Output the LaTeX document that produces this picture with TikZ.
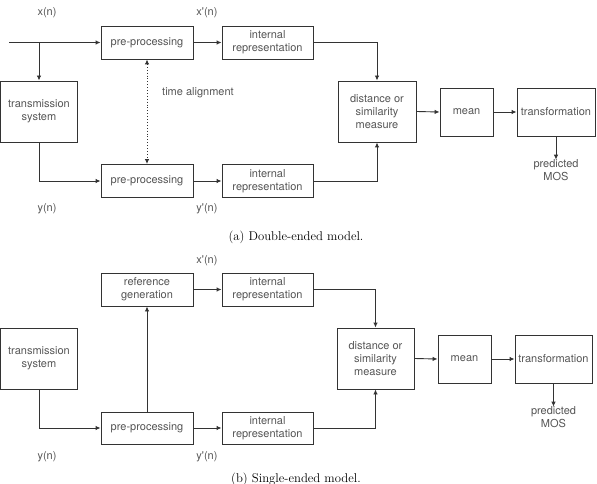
\documentclass[tikz,border=0pt]{standalone}
\usepackage{fontspec}
\newfontfamily\hv{TeX Gyre Heros}
\usetikzlibrary{arrows.meta}
\definecolor{txtgray}{HTML}{555555}
\definecolor{lngray}{HTML}{333333}
\tikzset{
  blk/.style={draw=lngray, line width=0.9pt, inner sep=0pt, align=center,
    text=txtgray, font=\hv\fontsize{11}{13}\selectfont},
  lbl/.style={text=txtgray, font=\hv\fontsize{11}{13}\selectfont, inner sep=0pt, align=center},
  arr/.style={draw=lngray, line width=0.9pt, -{Latex[length=5pt,width=4.5pt]}},
  ln/.style={draw=lngray, line width=0.9pt},
  captxt/.style={font=\fontsize{12.7}{15}\selectfont, inner sep=0pt}
}
\begin{document}
\begin{tikzpicture}[x=1pt,y=-1pt]
\useasboundingbox (0,0) rectangle (597,484);
% ---------- (a) ----------
\node[blk, minimum width=92pt, minimum height=33pt] (ppA) at (147,42.5) {pre-processing};
\node[blk, minimum width=91pt, minimum height=33pt] (irA) at (267.5,42.5) {internal\\representation};
\node[blk, minimum width=77pt, minimum height=61pt] (tsA) at (39,111.5) {transmission\\system};
\node[blk, minimum width=92pt, minimum height=33pt] (ppA2) at (147,181) {pre-processing};
\node[blk, minimum width=91pt, minimum height=33pt] (irA2) at (267.5,181) {internal\\representation};
\node[blk, minimum width=78pt, minimum height=61pt] (dsA) at (377,111.5) {distance or\\similarity\\measure};
\node[blk, minimum width=53pt, minimum height=48pt] (mnA) at (466.5,112) {mean};
\node[blk, minimum width=78pt, minimum height=48pt] (trA) at (556,112) {transformation};
\node[lbl] (mosA) at (556,170.5) {predicted\\MOS};
\node[lbl] (xA) at (47,13) {x(n)};
\node[lbl] (xpA) at (207,13) {x'(n)};
\node[lbl] (yA) at (47,209) {y(n)};
\node[lbl] (ypA) at (207,209) {y'(n)};
\node[lbl] (taA) at (198,93) {time alignment};
\coordinate (inA) at (9,42.5);
\coordinate (brA) at (39,42.5);
\draw[arr] (inA) -- (ppA.west);
\draw[arr] (brA) -- (tsA.north);
\draw[arr] (tsA.south) |- (ppA2.west);
\draw[arr] (ppA.east) -- (irA.west);
\draw[arr] (ppA2.east) -- (irA2.west);
\draw[ln, dotted, {Latex[length=5pt,width=4.5pt]}-{Latex[length=5pt,width=4.5pt]}] (ppA.south) -- (ppA2.north);
\draw[arr] (irA.east) -| (dsA.north);
\draw[arr] (irA2.east) -| (dsA.south);
\draw[arr] (dsA.east) -- (mnA.west);
\draw[arr] (mnA.east) -- (trA.west);
\draw[arr] (trA.south) -- (mosA.north);
\node[captxt] (capA) at (296,237) {(a) Double-ended model.};
% ---------- (b) ----------
\node[blk, minimum width=92pt, minimum height=33pt] (rgB) at (147,289.5) {reference\\generation};
\node[blk, minimum width=91pt, minimum height=33pt] (irB) at (267.5,289.5) {internal\\representation};
\node[blk, minimum width=77pt, minimum height=61pt] (tsB) at (39,358.5) {transmission\\system};
\node[blk, minimum width=92pt, minimum height=32pt] (ppB) at (147,428) {pre-processing};
\node[blk, minimum width=91pt, minimum height=32pt] (irB2) at (267.5,428) {internal\\representation};
\node[blk, minimum width=77pt, minimum height=61pt] (dsB) at (375.5,358.5) {distance or\\similarity\\measure};
\node[blk, minimum width=53pt, minimum height=48pt] (mnB) at (464.5,359) {mean};
\node[blk, minimum width=77pt, minimum height=48pt] (trB) at (553.5,359) {transformation};
\node[lbl] (mosB) at (553.5,417.5) {predicted\\MOS};
\node[lbl] (xpB) at (207,261) {x'(n)};
\node[lbl] (yB) at (47,457) {y(n)};
\node[lbl] (ypB) at (207,457) {y'(n)};
\draw[arr] (tsB.south) |- (ppB.west);
\draw[arr] (ppB.north) -- (rgB.south);
\draw[arr] (rgB.east) -- (irB.west);
\draw[arr] (ppB.east) -- (irB2.west);
\draw[arr] (irB.east) -| (dsB.north);
\draw[arr] (irB2.east) -| (dsB.south);
\draw[arr] (dsB.east) -- (mnB.west);
\draw[arr] (mnB.east) -- (trB.west);
\draw[arr] (trB.south) -- (mosB.north);
\node[captxt] (capB) at (296,479) {(b) Single-ended model.};
\end{tikzpicture}
\end{document}
